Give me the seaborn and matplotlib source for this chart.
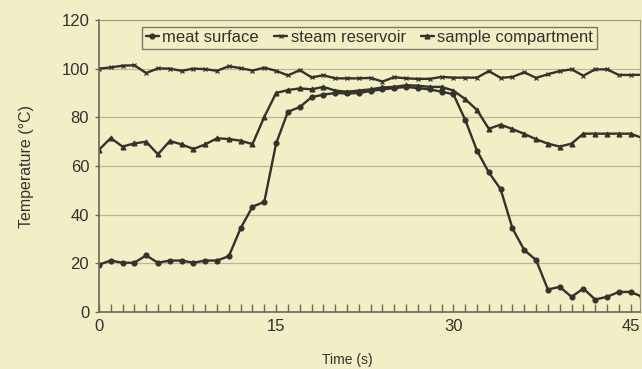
import matplotlib
matplotlib.use("Agg")
import matplotlib.pyplot as plt
import pandas as pd
import seaborn as sns
from matplotlib.ticker import MultipleLocator

# time in seconds, one reading per second
time_s = list(range(47))

meat_surface = [
    19.5, 21.2, 20.3, 20.3, 23.3, 20.3, 21.2, 21.2, 20.3, 21.2,
    21.2, 23.0, 34.5, 43.3, 45.3, 69.3, 82.3, 84.2, 88.3, 89.3,
    90.0, 89.8, 90.0, 90.8, 91.5, 92.0, 92.5, 92.0, 91.5, 90.5,
    89.5, 79.0, 66.3, 57.4, 50.5, 34.4, 25.5, 21.4, 9.3, 10.4,
    6.3, 9.7, 5.2, 6.3, 8.3, 8.3, 6.3,
]
steam_reservoir = [
    100.0, 100.5, 101.2, 101.4, 98.2, 100.1, 100.0, 99.1, 100.0, 99.8,
    99.1, 101.0, 100.2, 99.2, 100.4, 99.1, 97.2, 99.4, 96.4, 97.3,
    96.0, 96.0, 96.0, 96.2, 94.7, 96.5, 96.0, 95.8, 95.8, 96.6,
    96.3, 96.3, 96.3, 99.0, 96.2, 96.6, 98.5, 96.2, 97.7, 99.0,
    99.7, 97.1, 99.7, 99.7, 97.4, 97.4, 97.5,
]
sample_compartment = [
    66.6, 71.5, 68.0, 69.3, 70.0, 64.8, 70.3, 68.9, 67.0, 68.9,
    71.4, 71.1, 70.4, 69.0, 80.2, 90.0, 91.2, 91.9, 91.5, 92.5,
    91.0, 90.5, 91.0, 91.5, 92.3, 92.5, 93.2, 93.0, 92.5, 92.5,
    91.0, 87.5, 83.0, 75.3, 77.0, 75.2, 73.2, 71.0, 69.2, 68.0,
    69.2, 73.3, 73.3, 73.3, 73.3, 73.3, 71.5,
]

series_names = ["meat surface", "steam reservoir", "sample compartment"]
x_ticks = [0, 15, 30, 45]
y_ticks = [0, 20, 40, 60, 80, 100, 120]

bg = "#f2efc7"
ink = "#33322b"

sns.set_theme(style="white")
plt.rcParams["font.family"] = ["Liberation Sans", "DejaVu Sans"]

fig = plt.figure(figsize=(6.42, 3.69), dpi=100, facecolor=bg)
ax = fig.add_axes([0.154, 0.154, 0.843, 0.792])
ax.set_facecolor(bg)

markers = {"meat surface": "o", "steam reservoir": "x", "sample compartment": "^"}
values = {
    "meat surface": meat_surface,
    "steam reservoir": steam_reservoir,
    "sample compartment": sample_compartment,
}
for name in series_names:
    df = pd.DataFrame({"Time": time_s, "Temperature": values[name]})
    sns.lineplot(
        data=df, x="Time", y="Temperature", color=ink, marker=markers[name],
        markersize=3.5, linewidth=1.7, markeredgewidth=0.9,
        markeredgecolor=ink, markerfacecolor=ink, label=name, ax=ax,
    )

ax.set_xlim(0, 45.8)
ax.set_ylim(0, 120)
ax.set_xticks(x_ticks)
ax.xaxis.set_minor_locator(MultipleLocator(1))
ax.set_yticks(y_ticks)
ax.yaxis.grid(True, color="#b9b69a", linewidth=0.9)
ax.xaxis.grid(False)

for side in ["top", "right"]:
    ax.spines[side].set_color("#9c9a85")
    ax.spines[side].set_linewidth(0.8)
for side in ["left", "bottom"]:
    ax.spines[side].set_color("#6a6858")
    ax.spines[side].set_linewidth(1.2)

ax.tick_params(axis="x", which="major", direction="in", length=6, width=1,
               color="#6a6858", labelsize=12, labelcolor=ink, pad=5, bottom=True)
ax.tick_params(axis="x", which="minor", direction="in", length=6, width=1,
               color="#6a6858", bottom=True)
ax.tick_params(axis="y", which="major", direction="out", length=3, width=1,
               color="#6a6858", labelsize=12, labelcolor=ink, left=True, pad=4)

ax.set_xlabel("Time (s)", fontsize=10, color=ink)
ax.xaxis.set_label_coords((347 - 99) / 541, -0.14)
ax.set_ylabel("Temperature (°C)", fontsize=11.5, color=ink)
ax.yaxis.set_label_coords(-0.12, 0.5)

handles, labels = ax.get_legend_handles_labels()
leg = ax.legend(
    handles, labels, ncol=3, loc="upper center", bbox_to_anchor=(0.5, 0.976),
    borderaxespad=0, frameon=True, fancybox=False, fontsize=12, handlelength=0.8,
    handletextpad=0.2, columnspacing=0.9, borderpad=0.2, labelcolor=ink,
)
leg.get_frame().set_facecolor(bg)
leg.get_frame().set_edgecolor("#5c5a4c")
leg.get_frame().set_linewidth(1.0)

fig.savefig("out.png", dpi=100, facecolor=bg)
